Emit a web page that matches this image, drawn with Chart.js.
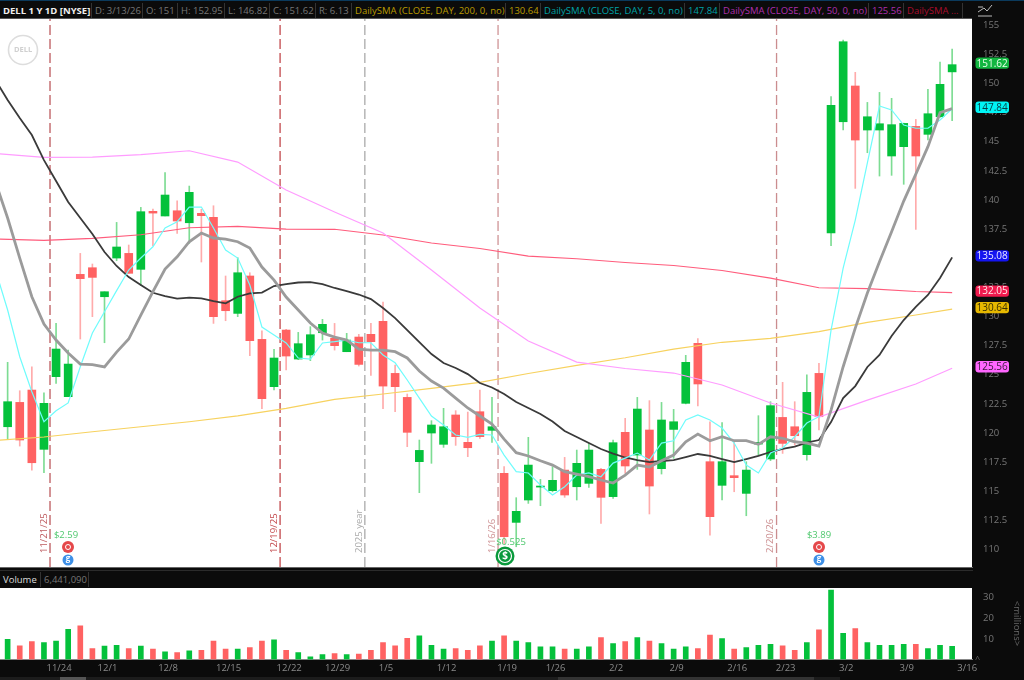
<!DOCTYPE html>
<html>
<head>
<meta charset="utf-8">
<title>DELL 1 Y 1D</title>
<script src="https://cdn.jsdelivr.net/npm/chart.js@4"></script>
<style>
    html, body { margin: 0; padding: 0; background: #0b0b0b; overflow: hidden; }
    #wrap { position: relative; width: 1024px; height: 680px; background: #0b0b0b; font-family: "Open Sans", sans-serif; }
    canvas { position: absolute; left: 0; }
    .bar { position: absolute; left: 0; width: 1024px; background: #0b0b0b; }
    .cell { position: absolute; top: 3px; font-size: 9.5px; line-height: 13px; white-space: nowrap; }
    .sep { position: absolute; top: 2px; width: 1px; height: 15px; background: #333; }
</style>
</head>
<body>
<div id="wrap">
    <div class="bar" id="topBar" style="top:0;height:18px;border-top:1px solid #0b3a5c;"></div>
    <div class="bar" style="top:18px;height:1px;width:972px;background:#555;"></div>
    <canvas id="chartPrice" width="1024" height="548" style="top:19px;width:1024px;height:548px;"></canvas>
    <div class="bar" id="volBar" style="top:567px;height:21px;width:973px;border-top:1px solid #666;box-sizing:border-box;">
        <div style="position:absolute;top:2px;left:0;width:973px;height:1px;background:#2b2b2b;"></div>
        <span class="cell" style="left:3px;top:5px;color:#ddd;">Volume</span>
        <span class="sep" style="left:40px;top:4px;"></span>
        <span class="cell" style="left:44px;top:5px;color:#777;">6,441,090</span>
        <span class="sep" style="left:88px;top:4px;"></span>
    </div>
    <canvas id="chartVolume" width="1024" height="92" style="top:588px;width:1024px;height:92px;"></canvas>
    <span class="cell" style="left:975px;top:652px;color:#666;font-size:9px;">^</span>
    <span class="cell" style="left:994px;top:617px;width:46px;text-align:center;color:#666;font-size:9.5px;transform:rotate(90deg);">&lt;millions&gt;</span>
    <div style="position:absolute;top:677px;left:0;width:840px;height:3px;background:#1c1c1c;"></div>
    <div style="position:absolute;top:677px;left:60px;width:26px;height:3px;background:#555;"></div>
    <div style="position:absolute;top:677px;left:558px;width:256px;height:3px;background:#333;"></div>
    <svg style="position:absolute;left:977px;top:3px;" width="16" height="14" viewBox="0 0 16 14">
        <path d="M1 9 L7 5 L10 8 L15 2 M1 13 H15 M1 4 H6" fill="none" stroke="#bbb" stroke-width="1"/>
    </svg>
</div>

<script>
// [open, high, low, close], one row per session
const candles = [
    [120.54, 126.07, 119.46, 122.69], [122.63, 123.63, 118.88, 119.40], [123.69, 125.69, 116.82, 117.45], [118.60, 123.46, 116.60, 122.55],
    [124.84, 129.41, 124.26, 127.21], [123.12, 127.12, 123.12, 125.92], [133.62, 135.42, 128.07, 133.25], [134.19, 134.51, 129.99, 133.36],
    [131.70, 132.13, 127.75, 132.13], [135.02, 138.08, 134.79, 135.97], [135.42, 136.14, 133.71, 133.71], [134.05, 139.37, 132.65, 139.00],
    [139.03, 139.23, 136.08, 138.88], [138.63, 142.35, 138.63, 140.43], [139.08, 139.94, 137.14, 138.20], [138.05, 141.20, 136.28, 140.66],
    [138.86, 139.20, 134.68, 138.66], [138.51, 139.51, 129.41, 129.99], [131.36, 133.48, 129.64, 130.50], [130.27, 135.05, 129.99, 133.76],
    [133.48, 133.76, 126.64, 127.93], [128.04, 128.78, 122.09, 122.95], [123.98, 127.18, 123.69, 126.44], [128.84, 128.90, 125.41, 126.61],
    [126.35, 128.64, 126.30, 127.67], [126.70, 129.13, 126.21, 128.44], [128.61, 129.76, 127.98, 129.33], [128.13, 129.41, 127.12, 127.50],
    [126.98, 128.56, 126.98, 127.98], [128.24, 128.47, 125.75, 125.89], [128.47, 129.41, 124.95, 127.84], [129.59, 131.24, 122.09, 124.03],
    [125.12, 125.84, 121.83, 123.98], [123.06, 123.35, 118.83, 120.06], [117.54, 119.40, 114.88, 118.51], [120.00, 121.06, 117.40, 120.69],
    [119.03, 122.12, 118.77, 120.54], [121.55, 121.92, 118.94, 119.69], [119.20, 121.80, 117.97, 118.74], [121.83, 123.69, 119.54, 119.69],
    [120.23, 123.06, 119.20, 120.54], [116.54, 117.11, 110.50, 111.10], [112.33, 114.45, 110.24, 113.28], [114.25, 119.63, 113.96, 117.25],
    [115.36, 116.02, 113.76, 115.45], [115.05, 117.11, 114.95, 115.94], [116.82, 117.91, 114.48, 114.68], [115.39, 118.54, 114.25, 117.40],
    [115.68, 119.11, 115.34, 118.54], [116.88, 116.97, 112.25, 114.48], [114.54, 119.40, 114.39, 119.17], [120.06, 121.26, 116.54, 117.17],
    [118.11, 123.06, 116.88, 122.06], [120.26, 122.78, 113.05, 115.45], [116.94, 122.63, 116.48, 121.12], [120.31, 122.03, 117.83, 120.97],
    [122.55, 126.67, 122.50, 126.07], [127.70, 128.10, 122.32, 124.21], [117.54, 120.97, 111.24, 112.82], [115.51, 120.89, 114.25, 117.54],
    [116.34, 119.23, 114.96, 116.17], [114.82, 117.54, 112.90, 116.82], [119.05, 121.49, 118.11, 119.20], [117.77, 122.69, 117.63, 122.35],
    [121.34, 124.35, 118.25, 119.11], [120.54, 122.69, 118.97, 119.77], [118.14, 125.00, 117.68, 123.49], [125.12, 125.98, 120.26, 121.40],
    [137.17, 148.87, 136.08, 148.13], [146.72, 153.73, 146.01, 153.59], [149.79, 150.96, 141.00, 145.15], [146.01, 148.38, 144.06, 147.15],
    [146.01, 149.24, 142.06, 146.55], [143.78, 148.73, 142.12, 146.47], [144.58, 146.60, 141.35, 146.58], [146.32, 146.92, 137.48, 143.78],
    [145.64, 149.50, 145.15, 147.41], [147.15, 151.85, 147.10, 149.93], [151.00, 152.95, 146.82, 151.62]
];

// millions of shares
const volumes = [
    9.8, 6.6, 8.7, 8.2, 9.0, 14.7, 16.3, 5.3, 6.5, 6.9, 5.3, 6.5, 5.0, 3.7, 3.4, 4.2, 4.5, 9.0, 5.0, 5.0,
    5.8, 9.0, 9.5, 4.5, 3.4, 1.3, 2.4, 2.9, 2.4, 2.6, 4.5, 8.2, 6.6, 10.3, 11.5, 6.9, 5.0, 5.3, 4.5, 6.6,
    9.0, 11.5, 9.0, 8.2, 6.1, 6.1, 5.0, 5.0, 6.1, 10.6, 7.7, 8.7, 10.6, 9.0, 7.7, 5.0, 6.1, 5.3, 11.8, 10.2,
    5.0, 5.8, 6.9, 7.4, 6.6, 4.5, 8.2, 14.4, 33.7, 12.7, 15.0, 8.2, 6.9, 6.9, 7.4, 7.4, 5.3, 6.9, 6.44
];

// the three fast averages have one value per session, starting one session before the first candle
const smaBlack = [
    150.30, 148.58, 147.04, 145.58, 143.43, 141.63, 139.83, 138.46, 137.08, 135.54, 134.34, 133.39, 132.70, 132.04, 131.76, 131.53,
    131.63, 131.56, 131.33, 131.13, 131.70, 131.99, 132.06, 132.62, 132.79, 132.92, 132.96, 132.79, 132.45, 132.19, 131.89, 131.50,
    130.73, 129.87, 128.84, 127.81, 126.78, 126.01, 125.58, 125.06, 124.29, 123.91, 123.35, 122.66, 122.15, 121.63, 120.99, 120.17,
    119.66, 119.14, 118.63, 118.24, 117.90, 117.68, 117.51, 117.60, 117.68, 117.94, 118.20, 118.03, 117.77, 117.51, 117.77, 118.03,
    118.37, 118.63, 118.84, 119.17, 119.40, 120.94, 123.00, 124.03, 125.67, 126.70, 128.33, 129.70, 130.82, 131.85, 133.31, 135.08
];
const smaGray = [
    141.55, 138.46, 135.02, 131.70, 129.36, 127.98, 126.87, 125.92, 125.88, 125.67, 126.95, 128.07, 130.13, 132.13, 134.08, 135.13,
    136.42, 137.17, 136.74, 136.65, 136.42, 135.88, 134.25, 133.13, 131.67, 130.56, 129.44, 128.58, 128.24, 127.98, 127.21, 127.12,
    127.12, 126.98, 126.44, 125.32, 124.46, 123.86, 123.00, 122.15, 121.46, 120.77, 119.48, 118.31, 118.03, 117.62, 117.25, 116.68,
    116.48, 116.25, 115.97, 115.71, 116.39, 117.25, 117.08, 117.62, 118.11, 119.25, 119.91, 119.34, 119.68, 119.34, 119.34, 119.03,
    119.68, 119.55, 119.25, 119.14, 118.88, 121.97, 125.69, 129.01, 132.02, 134.70, 137.28, 139.91, 142.23, 144.58, 147.50, 147.84
];
const smaCyan = [
    133.99, 130.56, 126.55, 123.55, 120.97, 121.91, 122.58, 125.69, 128.58, 130.41, 132.22, 133.99, 135.02, 135.99, 137.60, 138.14,
    139.40, 139.40, 137.60, 135.71, 135.02, 132.70, 129.10, 128.41, 127.73, 126.44, 126.35, 127.73, 127.84, 127.98, 127.75, 127.75,
    126.70, 126.03, 124.55, 123.00, 121.46, 120.69, 119.83, 119.63, 119.89, 119.83, 118.11, 116.68, 116.57, 115.54, 114.68, 115.39,
    116.39, 116.57, 116.25, 117.42, 117.85, 118.28, 117.68, 119.14, 119.34, 121.12, 121.55, 121.12, 120.43, 119.14, 117.25, 116.57,
    118.28, 118.71, 119.68, 120.86, 121.40, 128.84, 134.16, 138.28, 143.18, 148.07, 147.73, 146.44, 146.16, 146.16, 146.87, 147.84
];

// the slow averages are smooth, so they are read every fourth session
const slowSessions = [-1, 3, 7, 11, 15, 19, 23, 27, 31, 35, 39, 43, 47, 51, 55, 59, 63, 67, 71, 75, 78];
const smaGold = [119.36, 119.66, 120.11, 120.54, 120.97, 121.48, 122.12, 122.89, 123.35, 123.84, 124.35, 125.11, 125.81, 126.46, 127.21, 127.79, 128.13, 128.70, 129.50, 130.13, 130.64];
const smaRed = [136.65, 136.54, 136.71, 137.02, 137.62, 137.74, 137.51, 137.49, 137.00, 136.31, 135.84, 135.19, 134.96, 134.64, 134.38, 133.95, 133.30, 132.47, 132.39, 132.15, 132.05];
const smaMagenta = [143.99, 143.66, 143.69, 143.89, 144.23, 143.26, 140.86, 138.97, 137.17, 133.99, 130.73, 127.90, 126.09, 125.54, 125.15, 124.12, 122.58, 121.37, 122.83, 124.21, 125.56];

const priceTicks = [110, 112.5, 115, 117.5, 120, 122.5, 125, 127.5, 130, 132.5, 135, 137.5, 140, 142.5, 145, 147.5, 150, 152.5, 155];
const volumeTicks = [10, 20, 30];
const dateTickSessions = [4, 8, 13, 18, 23, 27, 31, 36, 41, 45, 50, 55, 60, 64, 69, 74, 79];
const dateTickLabels = ['11/24', '12/1', '12/8', '12/15', '12/22', '12/29', '1/5', '1/12', '1/19', '1/26', '2/2', '2/9', '2/16', '2/23', '3/2', '3/9', '3/16'];

const eventSessions = [3.5, 22.5, 29.5, 40.5, 63.5];
const eventLabels = ['11/21/25', '12/19/25', '2025 year', '1/16/26', '2/20/26'];
const eventColors = ['#bd5a5e', '#c2484c', '#aaaaaa', '#cf9395', '#cb8d8f'];

const tagValues = [151.62, 147.84, 135.08, 132.05, 130.64, 125.56];
const tagColors = ['#12b640', '#00f5f5', '#1414f0', '#f01a4e', '#e6b800', '#ff66ff'];
const tagTextColors = ['#e8ffe8', '#064048', '#e8e8ff', '#ffe8e8', '#3a3000', '#3a1a3a'];

const GREEN = '#04c13b';
const RED = '#ff6262';
const GREEN_WICK = '#7ddc93';
const RED_WICK = '#ffabab';
const PRICE_MIN = 108.5;
const PRICE_MAX = 155.54;
const SESSION_MIN = -0.63;
const SESSION_MAX = 79.64;

const isUp = candles.map(c => c[3] >= c[0]);

const headerCells = [
    ['DELL 1 Y 1D [NYSE]', 3, '#f0f0f0', 91],
    ['D: 3/13/26', 95, '#777', 142],
    ['O: 151', 146, '#777', 177],
    ['H: 152.95', 181, '#777', 224],
    ['L: 146.82', 228, '#777', 269],
    ['C: 151.62', 273, '#777', 315],
    ['R: 6.13', 319, '#777', 351],
    ['DailySMA (CLOSE, DAY, 200, 0, no)', 355, '#b99a00', 505],
    ['130.64', 509, '#b99a00', 540],
    ['DailySMA (CLOSE, DAY, 5, 0, no)', 544, '#00a2a6', 684],
    ['147.84', 688, '#00a2a6', 719],
    ['DailySMA (CLOSE, DAY, 50, 0, no)', 723, '#ae2fae', 868],
    ['125.56', 872, '#ae2fae', 903],
    ['DailySMA ...', 907, '#a80c2c', 962]
];

const topBar = document.getElementById('topBar');
headerCells.forEach((cell, i) => {
    const text = document.createElement('span');
    text.className = 'cell';
    text.textContent = cell[0];
    text.style.left = cell[1] + 'px';
    text.style.color = cell[2];
    if (i == 0) {
        text.style.fontWeight = 'bold';
    }
    topBar.appendChild(text);
    const sep = document.createElement('span');
    sep.className = 'sep';
    sep.style.left = cell[3] + 'px';
    topBar.appendChild(sep);
});

function seriesFromSessions(values) {
    return values.map((v, i) => ({ x: i - 1, y: v }));
}

function slowSeries(values) {
    return values.map((v, i) => ({ x: slowSessions[i], y: v }));
}

function lineDataset(data, color, width, order) {
    return { type: 'line', data: data, borderColor: color, borderWidth: width, pointRadius: 0, tension: 0, order: order };
}

// tick labels must not push the plot away from the canvas edges
function dropPadding(scale) {
    scale.paddingTop = 0;
    scale.paddingBottom = 0;
    scale.paddingLeft = 0;
    scale.paddingRight = 0;
}

const whitePlot = {
    id: 'whitePlot',
    beforeDraw(chart) {
        const a = chart.chartArea;
        chart.ctx.fillStyle = '#ffffff';
        chart.ctx.fillRect(a.left, a.top, a.right - a.left, a.bottom - a.top);
    }
};

function drawDividend(ctx, label, labelX, labelY) {
    ctx.fillStyle = '#4fc86e';
    ctx.font = '9.5px "Open Sans"';
    ctx.textAlign = 'center';
    ctx.textBaseline = 'middle';
    ctx.fillText(label, labelX, labelY);
}

function drawEarnings(ctx, x) {
    ctx.beginPath();
    ctx.arc(x, 528, 6, 0, Math.PI * 2);
    ctx.fillStyle = '#e5484a';
    ctx.fill();
    ctx.beginPath();
    ctx.arc(x, 528, 2.5, 0, Math.PI * 2);
    ctx.strokeStyle = '#ffffff';
    ctx.lineWidth = 1;
    ctx.stroke();
    ctx.beginPath();
    ctx.arc(x, 541, 5.5, 0, Math.PI * 2);
    ctx.fillStyle = '#3d8fe6';
    ctx.fill();
    ctx.fillStyle = '#ffffff';
    ctx.font = 'bold 8px "Open Sans"';
    ctx.textAlign = 'center';
    ctx.textBaseline = 'middle';
    ctx.fillText('g', x, 540);
}

const chartDecor = {
    id: 'chartDecor',
    afterDatasetsDraw(chart) {
        const ctx = chart.ctx;
        const xScale = chart.scales.x;
        const yScale = chart.scales.y;
        ctx.save();

        // DELL logo
        ctx.beginPath();
        ctx.arc(23, 31, 14.5, 0, Math.PI * 2);
        ctx.strokeStyle = '#dddddd';
        ctx.lineWidth = 1.6;
        ctx.stroke();
        ctx.fillStyle = '#d0d0d0';
        ctx.font = 'bold 7.5px "Open Sans"';
        ctx.textAlign = 'center';
        ctx.textBaseline = 'middle';
        ctx.fillText('DELL', 23, 31);

        // rotated labels next to the event lines
        eventSessions.forEach((s, i) => {
            ctx.save();
            ctx.translate(xScale.getPixelForValue(s) - 6, 534);
            ctx.rotate(-Math.PI / 2);
            ctx.fillStyle = eventColors[i];
            ctx.font = '9.5px "Open Sans"';
            ctx.textAlign = 'left';
            ctx.textBaseline = 'middle';
            ctx.fillText(eventLabels[i], 0, 0);
            ctx.restore();
        });

        drawDividend(ctx, '$2.59', 66, 516);
        drawEarnings(ctx, 68);
        drawDividend(ctx, '$3.89', 819, 516);
        drawEarnings(ctx, 819);

        // dividend coin
        ctx.beginPath();
        ctx.arc(505, 537, 9.5, 0, Math.PI * 2);
        ctx.fillStyle = '#0a9a3c';
        ctx.fill();
        ctx.beginPath();
        ctx.arc(505, 537, 6.5, 0, Math.PI * 2);
        ctx.strokeStyle = '#ffffff';
        ctx.lineWidth = 1.2;
        ctx.stroke();
        ctx.fillStyle = '#ffffff';
        ctx.font = 'bold 10px "Open Sans"';
        ctx.textAlign = 'center';
        ctx.textBaseline = 'middle';
        ctx.fillText('$', 505, 537);
        drawDividend(ctx, '$0.525', 511, 523);

        // price tags on the axis
        ctx.font = '10px "Open Sans"';
        ctx.textAlign = 'center';
        tagValues.forEach((v, i) => {
            const y = yScale.getPixelForValue(v) - 1.5;
            ctx.beginPath();
            ctx.roundRect(975.5, y - 5.7, 33.5, 11.4, 3);
            ctx.fillStyle = tagColors[i];
            ctx.fill();
            ctx.fillStyle = tagTextColors[i];
            ctx.fillText(v.toFixed(2), 992.2, y + 0.5);
        });
        ctx.restore();
    }
};

const eventDatasets = eventSessions.map((s, i) => ({
    type: 'line',
    data: [{ x: s, y: PRICE_MIN }, { x: s, y: PRICE_MAX }],
    borderColor: eventColors[i],
    borderWidth: 1.3,
    borderDash: [10, 4],
    pointRadius: 0,
    order: 9
}));

new Chart(document.getElementById('chartPrice'), {
    type: 'bar',
    data: {
        datasets: [
            ...eventDatasets,
            {
                data: candles.map((c, i) => ({ x: i, y: [c[2], c[1]] })),
                backgroundColor: isUp.map(up => up ? GREEN_WICK : RED_WICK),
                barThickness: 1,
                grouped: false,
                order: 8
            },
            {
                data: candles.map((c, i) => ({ x: i, y: [Math.min(c[0], c[3]), Math.max(c[0], c[3])] })),
                backgroundColor: isUp.map(up => up ? GREEN : RED),
                barThickness: 8,
                grouped: false,
                order: 7
            },
            lineDataset(slowSeries(smaGold), '#f7d25f', 1.2, 6),
            lineDataset(slowSeries(smaRed), '#ff5c7c', 1.2, 5),
            lineDataset(slowSeries(smaMagenta), '#ff9cff', 1.2, 4),
            lineDataset(seriesFromSessions(smaBlack), '#3a3a3a', 1.8, 3),
            lineDataset(seriesFromSessions(smaCyan), '#6ffcfc', 1.2, 2),
            lineDataset(seriesFromSessions(smaGray), '#9b9b9b', 2.8, 1)
        ]
    },
    options: {
        responsive: false,
        animation: false,
        layout: { padding: 0 },
        plugins: { legend: { display: false }, tooltip: { enabled: false } },
        scales: {
            x: { type: 'linear', display: false, offset: false, min: SESSION_MIN, max: SESSION_MAX },
            y: {
                position: 'right',
                min: PRICE_MIN,
                max: PRICE_MAX,
                afterFit(scale) { scale.width = 52; dropPadding(scale); },
                afterBuildTicks(scale) { scale.ticks = priceTicks.map(v => ({ value: v })); },
                grid: { display: false },
                border: { display: false },
                ticks: {
                    color: '#777777',
                    padding: 3,
                    font: { family: 'Open Sans', size: 9.5 },
                    callback: v => String(v)
                }
            }
        }
    },
    plugins: [whitePlot, chartDecor]
});

new Chart(document.getElementById('chartVolume'), {
    type: 'bar',
    data: {
        datasets: [{
            data: volumes.map((v, i) => ({ x: i, y: v })),
            backgroundColor: isUp.map(up => up ? GREEN : RED),
            barThickness: 5
        }]
    },
    options: {
        responsive: false,
        animation: false,
        layout: { padding: 0 },
        plugins: { legend: { display: false }, tooltip: { enabled: false } },
        scales: {
            x: {
                type: 'linear',
                offset: false,
                min: SESSION_MIN,
                max: SESSION_MAX,
                afterFit(scale) { scale.height = 20.5; dropPadding(scale); },
                afterBuildTicks(scale) { scale.ticks = dateTickSessions.map(v => ({ value: v })); },
                grid: { display: false, drawTicks: false },
                border: { display: true, color: '#888888', width: 1 },
                ticks: {
                    color: '#8a8a8a',
                    padding: 3,
                    labelOffset: 3,
                    maxRotation: 0,
                    autoSkip: false,
                    font: { family: 'Open Sans', size: 9.5 },
                    callback: v => dateTickLabels[dateTickSessions.indexOf(v)]
                }
            },
            y: {
                position: 'right',
                min: 0,
                max: 34.7,
                afterFit(scale) { scale.width = 52; dropPadding(scale); },
                afterBuildTicks(scale) { scale.ticks = volumeTicks.map(v => ({ value: v })); },
                grid: { display: false },
                border: { display: false },
                ticks: {
                    color: '#777777',
                    padding: 3,
                    font: { family: 'Open Sans', size: 9.5 },
                    callback: v => String(v)
                }
            }
        }
    },
    plugins: [whitePlot]
});
</script>
</body>
</html>
